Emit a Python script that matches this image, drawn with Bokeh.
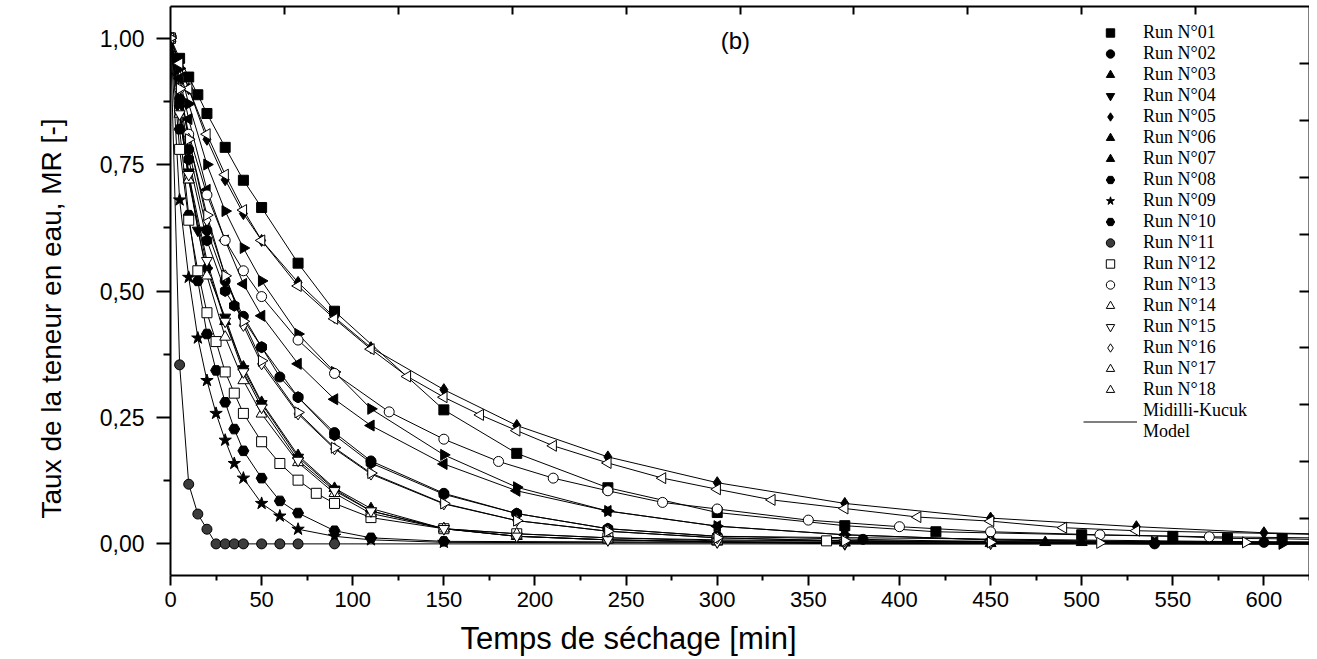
import numpy as np
from bokeh.plotting import figure
from bokeh.models import (Range1d, LinearAxis, FixedTicker, Legend, LegendItem, Label, Title)
from bokeh.embed import file_html
from bokeh.resources import INLINE

# ---------------- data ----------------
run_names = ["Run N°01", "Run N°02", "Run N°03", "Run N°04", "Run N°05", "Run N°06",
             "Run N°07", "Run N°08", "Run N°09", "Run N°10", "Run N°11", "Run N°12",
             "Run N°13", "Run N°14", "Run N°15", "Run N°16", "Run N°17", "Run N°18"]

t01 = [0, 5, 10, 15, 20, 30, 40, 50, 70, 90, 150, 190, 240, 300, 370, 420, 500, 550, 580, 610]
mr01 = [1.0, 0.96, 0.923, 0.888, 0.851, 0.784, 0.719, 0.665, 0.555, 0.46, 0.265, 0.179, 0.111, 0.062, 0.036, 0.024, 0.018, 0.015, 0.011, 0.010]

t02 = [0, 5, 10, 20, 30, 40, 50, 60, 70, 90, 110, 150, 190, 240, 300, 380, 450, 540, 600]
mr02 = [1.0, 0.88, 0.78, 0.62, 0.52, 0.45, 0.389, 0.33, 0.29, 0.22, 0.164, 0.10, 0.06, 0.03, 0.015, 0.009, 0.004, 0.0, 0.003]

t03 = [0, 5, 10, 20, 30, 40, 50, 70, 90, 110, 150, 190, 240, 300, 370, 450, 480, 500]
mr03 = [1.0, 0.85, 0.72, 0.55, 0.44, 0.35, 0.28, 0.175, 0.11, 0.07, 0.03, 0.015, 0.008, 0.004, 0.002, 0.001, 0.003, 0.003]

t04 = [0, 5, 10, 15, 20, 30, 40, 50, 70, 90, 110, 150, 190, 240, 300, 370]
mr04 = [1.0, 0.86, 0.735, 0.62, 0.54, 0.448, 0.346, 0.277, 0.171, 0.108, 0.065, 0.03, 0.015, 0.008, 0.004, 0.0]

t05 = [0, 5, 10, 20, 30, 40, 50, 70, 90, 110, 150, 190, 240, 300, 370, 450, 530, 600]
mr05 = [1.0, 0.95, 0.90, 0.80, 0.72, 0.653, 0.60, 0.517, 0.448, 0.388, 0.305, 0.234, 0.172, 0.121, 0.080, 0.051, 0.034, 0.022]

t06 = [0, 5, 10, 20, 30, 40, 50, 70, 90, 110, 150, 190, 240, 300, 370, 450, 540]
mr06 = [1.0, 0.92, 0.84, 0.70, 0.60, 0.514, 0.451, 0.356, 0.286, 0.234, 0.158, 0.105, 0.065, 0.035, 0.018, 0.008, 0.004]

t07 = [0, 5, 10, 20, 30, 40, 50, 70, 90, 110, 150, 190, 240, 300, 370, 450, 540, 610]
mr07 = [1.0, 0.94, 0.87, 0.75, 0.658, 0.585, 0.52, 0.415, 0.34, 0.267, 0.176, 0.112, 0.065, 0.035, 0.018, 0.008, 0.004, 0.0]

t08 = [0, 5, 10, 20, 30, 35, 50, 70, 90, 110, 150, 190, 240, 300]
mr08 = [1.0, 0.87, 0.76, 0.60, 0.50, 0.471, 0.389, 0.29, 0.215, 0.16, 0.098, 0.06, 0.03, 0.015]

t09 = [0, 5, 10, 15, 20, 25, 30, 35, 40, 50, 60, 70, 90, 110, 150]
mr09 = [1.0, 0.68, 0.527, 0.407, 0.323, 0.258, 0.205, 0.159, 0.130, 0.080, 0.055, 0.029, 0.015, 0.008, 0.003]

t10 = [0, 5, 10, 15, 20, 25, 30, 35, 40, 50, 60, 70, 90, 110, 150]
mr10 = [1.0, 0.82, 0.65, 0.52, 0.415, 0.343, 0.28, 0.227, 0.184, 0.130, 0.085, 0.061, 0.026, 0.012, 0.005]

t11 = [0, 5, 10, 15, 20, 25, 30, 35, 40, 50, 60, 70, 90]
mr11 = [1.0, 0.354, 0.118, 0.059, 0.029, 0.0, 0.0, 0.0, 0.0, 0.0, 0.0, 0.0, 0.0]

t12 = [0, 5, 10, 15, 20, 25, 30, 35, 40, 50, 60, 70, 80, 90, 110, 150, 190, 240, 300, 360]
mr12 = [1.0, 0.78, 0.64, 0.54, 0.457, 0.40, 0.34, 0.298, 0.258, 0.202, 0.159, 0.126, 0.10, 0.08, 0.052, 0.03, 0.02, 0.012, 0.008, 0.006]

t13 = [0, 5, 10, 20, 30, 40, 50, 70, 90, 120, 150, 180, 210, 240, 270, 300, 350, 400, 450, 510, 570]
mr13 = [1.0, 0.90, 0.81, 0.69, 0.60, 0.54, 0.489, 0.403, 0.337, 0.261, 0.207, 0.163, 0.130, 0.105, 0.082, 0.069, 0.047, 0.034, 0.024, 0.018, 0.014]

t14 = [0, 5, 10, 20, 30, 40, 50, 70, 90, 110, 150, 190, 240, 300]
mr14 = [1.0, 0.85, 0.72, 0.53, 0.409, 0.323, 0.257, 0.161, 0.10, 0.06, 0.03, 0.02, 0.012, 0.006]

t15 = [0, 5, 10, 20, 30, 40, 50, 70, 90, 110, 150, 190, 240, 300, 370, 450]
mr15 = [1.0, 0.85, 0.73, 0.56, 0.44, 0.34, 0.27, 0.165, 0.105, 0.065, 0.03, 0.015, 0.008, 0.004, 0.002, 0.001]

t16 = [0, 5, 10, 20, 30, 40, 50, 70, 90, 110, 150, 190, 240, 300, 370, 450]
mr16 = [1.0, 0.90, 0.80, 0.64, 0.53, 0.432, 0.356, 0.257, 0.188, 0.138, 0.079, 0.046, 0.025, 0.012, 0.006, 0.003]

t17 = [0, 5, 10, 20, 30, 40, 50, 70, 90, 110, 130, 150, 170, 190, 210, 240, 270, 300, 330, 370, 410, 450, 490, 530]
mr17 = [1.0, 0.95, 0.90, 0.81, 0.73, 0.66, 0.60, 0.51, 0.445, 0.385, 0.331, 0.29, 0.255, 0.224, 0.194, 0.16, 0.13, 0.108, 0.087, 0.07, 0.053, 0.045, 0.032, 0.026]

t18 = [0, 5, 10, 20, 30, 40, 50, 70, 90, 110, 150, 190, 240, 300, 370, 450, 510, 590]
mr18 = [1.0, 0.90, 0.80, 0.65, 0.53, 0.44, 0.362, 0.26, 0.19, 0.14, 0.08, 0.046, 0.025, 0.012, 0.006, 0.003, 0.002, 0.003]

# value of each fitted model curve where it meets the right frame edge (t = 625 min)
model_end_t = 625
model_end_mr = [0.009, 0.002, 0.001, 0.0, 0.020, 0.002, 0.002, 0.003, 0.0, 0.0, 0.0,
                0.004, 0.012, 0.002, 0.0, 0.002, 0.019, 0.002]

times = [t01, t02, t03, t04, t05, t06, t07, t08, t09, t10, t11, t12, t13, t14, t15, t16, t17, t18]
ratios = [mr01, mr02, mr03, mr04, mr05, mr06, mr07, mr08, mr09, mr10, mr11, mr12, mr13, mr14, mr15, mr16, mr17, mr18]

x_ticks = [0, 50, 100, 150, 200, 250, 300, 350, 400, 450, 500, 550, 600]
x_minor = [25, 75, 125, 175, 225, 275, 325, 375, 425, 475, 525, 575, 625]
y_ticks = [0.0, 0.25, 0.5, 0.75, 1.0]
y_tick_labels = ["0,00", "0,25", "0,50", "0,75", "1,00"]
y_minor = [0.125, 0.375, 0.625, 0.875]

# ---------------- styles ----------------
marker_types = ["square", "circle", "triangle", "inverted_triangle", "diamond", "triangle",
                "triangle", "hex", "star", "hex", "circle", "square", "circle", "triangle",
                "inverted_triangle", "diamond", "triangle", "triangle"]
marker_angles = [0, 0, 0, 0, 0, np.pi / 2, -np.pi / 2, np.pi / 6, 0, 0, 0, 0, 0, 0, 0, 0,
                 np.pi / 2, -np.pi / 2]
marker_sizes = [10, 10, 11, 11, 12, 11, 11, 11, 13, 11, 10, 10, 10, 11, 11, 12, 11, 11]
filled = [True] * 11 + [False] * 7

FONT = "Liberation Sans"
SERIF = "Liberation Serif"

p = figure(frame_width=1139, frame_height=569,
           x_range=Range1d(0, 625), y_range=Range1d(-0.0625, 1.0625),
           output_backend="svg", toolbar_location=None,
           min_border_left=170, min_border_top=6, min_border_right=0,
           min_border_bottom=16, outline_line_color=None)
p.grid.visible = False

# model lines (drawn first) and markers
line_renderers = []
marker_renderers = []
for i in range(18):
    lr = p.line(times[i] + [model_end_t], ratios[i] + [model_end_mr[i]],
                line_color="black", line_width=1)
    line_renderers.append(lr)
for i in range(18):
    if i == 10:
        fc = "#3c3c3c"
    else:
        fc = "black" if filled[i] else "white"
    sr = p.scatter(times[i], ratios[i], marker=marker_types[i], size=marker_sizes[i],
                   angle=marker_angles[i], fill_color=fc, line_color="black",
                   line_width=1)
    marker_renderers.append(sr)

# bottom axis
xa = p.xaxis[0]
xa.ticker = FixedTicker(ticks=x_ticks, minor_ticks=x_minor)
xa.major_label_text_font = FONT
xa.major_label_text_color = "black"
xa.major_label_text_font_size = "22px"
xa.major_label_standoff = 6
xa.major_tick_out = 10
xa.major_tick_in = 0
xa.minor_tick_out = 5
xa.minor_tick_in = 0
xa.axis_line_width = 2
xa.major_tick_line_width = 2
xa.minor_tick_line_width = 2

# x-axis title, placed like in the reference (left of centre)
p.add_layout(Title(text="Temps de séchage [min]", align="left", offset=290,
                   text_font=FONT, text_font_size="31px", text_font_style="normal",
                   text_color="black", standoff=18), "below")

# left axis
ya = p.yaxis[0]
ya.ticker = FixedTicker(ticks=y_ticks, minor_ticks=y_minor)
ya.major_label_overrides = {v: s for v, s in zip(y_ticks, y_tick_labels)}
ya.major_label_text_font = FONT
ya.major_label_text_color = "black"
ya.major_label_text_font_size = "23px"
ya.major_label_standoff = 12
ya.major_tick_out = 14
ya.major_tick_in = 0
ya.minor_tick_out = 7
ya.minor_tick_in = 0
ya.axis_line_width = 2
ya.major_tick_line_width = 2
ya.minor_tick_line_width = 2

# y-axis title, placed like in the reference (below centre)
p.add_layout(Title(text="Taux de la teneur en eau, MR [-]", align="left", offset=57,
                   text_font=FONT, text_font_size="28px", text_font_style="normal",
                   text_color="black", standoff=60), "left")

# mirrored top / right axes (inward ticks only)
p.extra_x_ranges = {"top": Range1d(0, 10)}
p.extra_y_ranges = {"right": Range1d(0, 10)}
mirror_ticks = [1, 2, 3, 4, 5, 6, 7, 8, 9]
top = LinearAxis(x_range_name="top", ticker=FixedTicker(ticks=[], minor_ticks=mirror_ticks),
                 minor_tick_in=8, minor_tick_out=0, axis_line_width=2,
                 minor_tick_line_width=2, major_label_standoff=0)
right = LinearAxis(y_range_name="right", ticker=FixedTicker(ticks=[], minor_ticks=mirror_ticks),
                   minor_tick_in=10, minor_tick_out=0, axis_line_width=2,
                   minor_tick_line_width=2, major_label_standoff=0)
p.add_layout(top, "above")
p.add_layout(right, "right")

# panel label
p.add_layout(Label(x=310, y=0.995, text="(b)", text_font=FONT, text_font_size="24px",
                   text_color="black", text_align="center", text_baseline="middle"))

# legend
items = [LegendItem(label=run_names[i], renderers=[marker_renderers[i]]) for i in range(18)]
items.append(LegendItem(label="Midilli-Kucuk\nModel", renderers=[line_renderers[0]]))
legend = Legend(items=items, location=(913, 133), glyph_width=54, glyph_height=21,
                label_height=21, label_standoff=6, spacing=0, padding=0, margin=0,
                label_text_font=SERIF, label_text_font_size="18px",
                label_text_color="black",
                border_line_alpha=0, background_fill_alpha=0)
p.add_layout(legend, "center")

open("out.html", "w").write(file_html(p, INLINE))
